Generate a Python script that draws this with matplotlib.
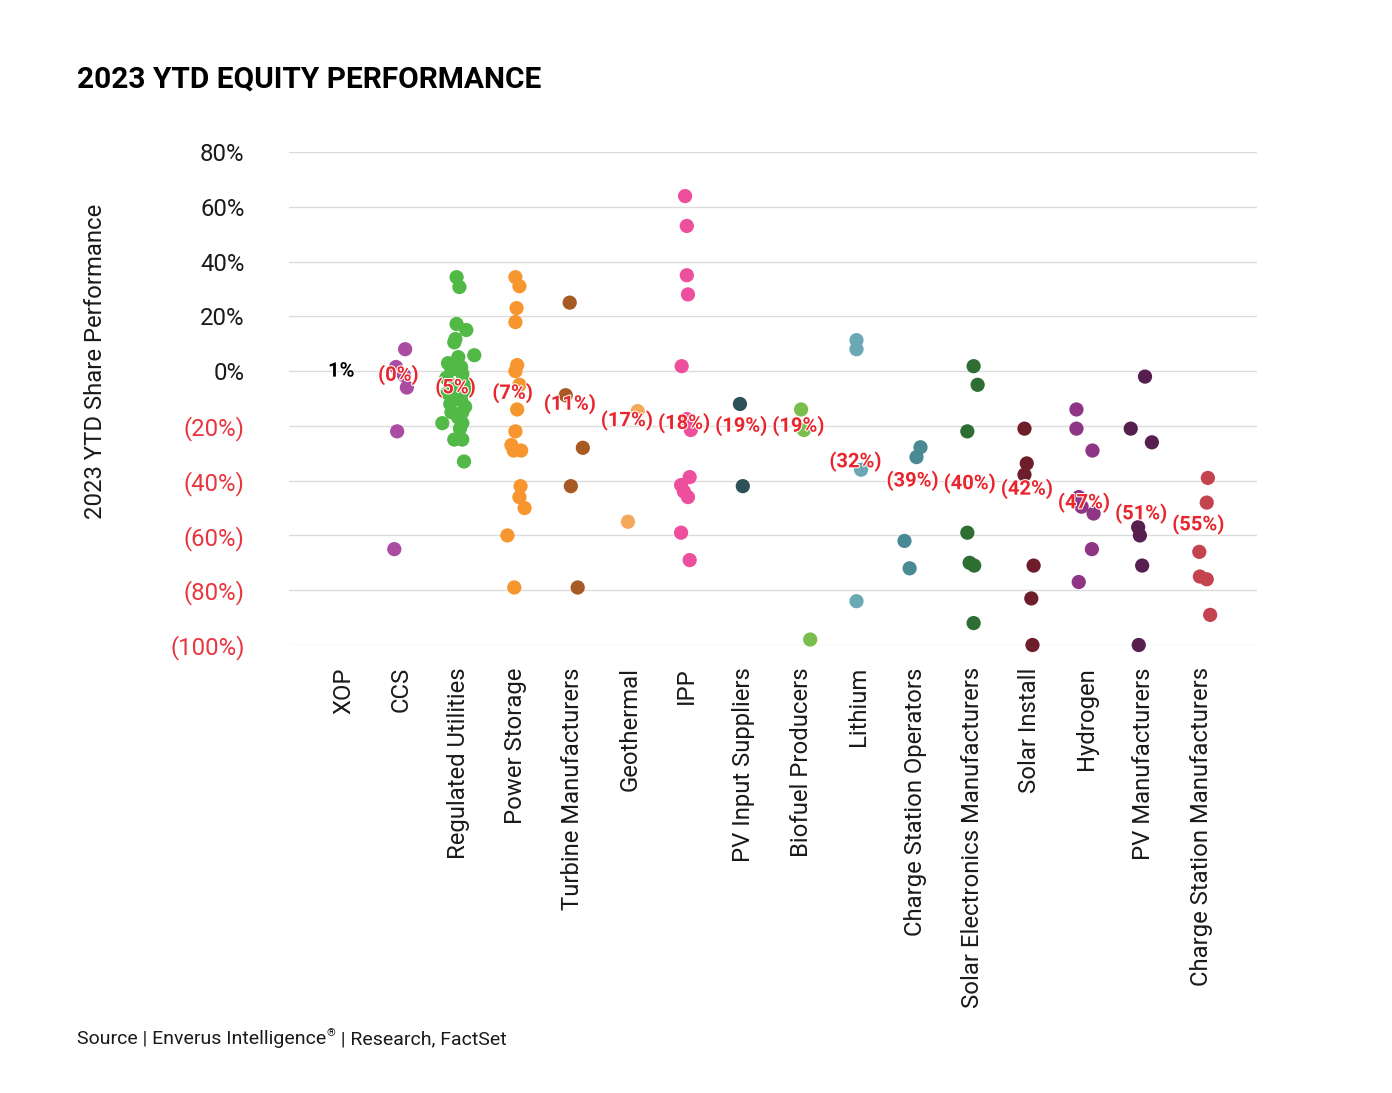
import matplotlib
matplotlib.use("Agg")
import matplotlib.pyplot as plt
import matplotlib.patheffects as pe
import numpy as np

plt.rcParams['font.family'] = ['Roboto', 'DejaVu Sans']

categories = ["XOP", "CCS", "Regulated Utilities", "Power Storage", "Turbine Manufacturers",
              "Geothermal", "IPP", "PV Input Suppliers", "Biofuel Producers", "Lithium",
              "Charge Station Operators", "Solar Electronics Manufacturers", "Solar Install",
              "Hydrogen", "PV Manufacturers", "Charge Station Manufacturers"]

colors = ["#000000", "#a94ca2", "#52b947", "#f7962f", "#a85a25", "#f6a85a", "#ee4f9c",
          "#2c5158", "#7abf4d", "#6aa9b3", "#4a8a94", "#2e6e33", "#6e1e2b", "#8e3586",
          "#561f50", "#c4434f"]

# Category summary labels (%)
summary = [1, -0.4, -5, -7, -11, -17, -18, -19, -19, -32, -39, -40, -42, -47, -51, -55]

# Individual equity YTD performance (%) and horizontal jitter (category units)
values = [
    [],
    [8, 1.5, -1.5, -6, -22, -65],
    [34.3, 30.7, 17.2, 15, 11.7, 10.5, 5.8, 5.1, 2.9, 1.5, 0.5, -1, -2.5, -4, -5, -7, -8, -9,
     -10.5, -12, -13, -15, -15, -17, -19, -19, -21, -25, -25, -33],
    [34.3, 31, 23, 17.9, 2.2, 0, -5, -14, -22, -27, -29, -29, -42, -46, -50, -60, -79],
    [25, -8.8, -28, -42, -79],
    [-14.6, -55],
    [63.9, 53, 35, 28, 1.8, -17.5, -19, -21.5, -38.7, -41.6, -44, -46, -59, -69],
    [-12, -42],
    [-14, -21.5, -98],
    [11.3, 8, -36, -84],
    [-27.8, -31.4, -62, -72],
    [1.8, -5, -22, -59, -70, -71, -92],
    [-21, -33.7, -37.8, -71, -83, -100],
    [-14, -21, -29, -46, -49.5, -52, -65, -77],
    [-2, -21, -26, -57, -60, -71, -100],
    [-39, -48, -66, -75, -76, -89],
]
jitter = [
    [],
    [0.07, -0.09, 0.05, 0.10, -0.07, -0.12],
    [-0.03, 0.02, -0.03, 0.14, -0.05, -0.07, 0.28, 0.0, -0.18, 0.05, -0.12, 0.07, -0.21, 0.10,
     -0.12, 0.12, -0.19, -0.02, 0.05, -0.14, 0.12, -0.12, 0.07, 0.0, -0.28, 0.07, 0.03, -0.07,
     0.07, 0.10],
    [0.0, 0.07, 0.02, 0.0, 0.03, 0.0, 0.07, 0.03, 0.0, -0.07, -0.03, 0.10, 0.09, 0.07, 0.16,
     -0.14, -0.02],
    [-0.05, -0.12, 0.18, -0.03, 0.09],
    [0.14, -0.03],
    [-0.03, 0.0, 0.0, 0.02, -0.09, 0.0, 0.05, 0.07, 0.05, -0.10, -0.05, 0.02, -0.10, 0.05],
    [-0.07, -0.02],
    [0.0, 0.05, 0.16],
    [-0.03, -0.03, 0.05, -0.03],
    [0.09, 0.02, -0.19, -0.10],
    [0.02, 0.09, -0.09, -0.09, -0.05, 0.03, 0.02],
    [-0.09, -0.05, -0.09, 0.07, 0.03, 0.05],
    [-0.18, -0.18, 0.10, -0.14, -0.09, 0.12, 0.09, -0.14],
    [0.02, -0.23, 0.14, -0.10, -0.07, -0.03, -0.09],
    [0.12, 0.10, -0.03, -0.02, 0.10, 0.16],
]

yticks = [80, 60, 40, 20, 0, -20, -40, -60, -80, -100]

W, H = 1392, 1093
fig = plt.figure(figsize=(W / 100, H / 100), dpi=100)
ax = fig.add_axes([289 / W, (H - 645) / H, 968 / W, 493 / H])

red = "#e8262e"
for i, (vals, jit) in enumerate(zip(values, jitter)):
    if vals:
        x = np.full(len(vals), float(i)) + np.array(jit)
        ax.scatter(x, vals, s=105, color=colors[i], edgecolors='none', zorder=3, clip_on=False)

for i, v in enumerate(summary):
    txt = f"{round(v)}%" if v > 0 else f"({abs(round(v))}%)"
    col = "#000000" if v > 0 else red
    ax.text(i - 0.05, v - 1, txt, ha='center', va='center', fontsize=14.5, fontweight='bold',
            color=col, zorder=5,
            path_effects=[pe.withStroke(linewidth=1.5, foreground='white')])

ax.set_xlim(-0.963, 15.98)
ax.set_ylim(-100, 80)
ax.set_yticks(yticks)
ax.set_yticklabels([f"{t}%" if t >= 0 else f"({abs(t)}%)" for t in yticks])
for lab, t in zip(ax.get_yticklabels(), yticks):
    lab.set_color("#1a1a1a" if t >= 0 else "#e8363f")
ax.set_xticks(range(len(categories)))
ax.set_xticklabels(categories, rotation=90, va='top', ha='center')
ax.tick_params(axis='y', length=0, pad=32, labelsize=17.2)
ax.tick_params(axis='x', length=0, pad=16, labelsize=17.2, labelcolor="#1a1a1a")

ax.grid(axis='y', color='#dcdcdc', linewidth=1)
ax.set_axisbelow(True)
for sp in ax.spines.values():
    sp.set_visible(False)

fig.text(77 / W, 1 - 80 / H, "2023 YTD EQUITY PERFORMANCE", fontsize=21.5, fontweight='bold',
         ha='left', va='center', color='#000000')
fig.text(95 / W, 1 - 361 / H, "2023 YTD Share Performance", fontsize=17.2,
         rotation=90, ha='center', va='center', color='#1a1a1a')

# Source line with a small raised registered mark
renderer = fig.canvas.get_renderer()
t1 = fig.text(77 / W, 1 - 1039 / H, "Source | Enverus Intelligence", fontsize=14,
              ha='left', va='center', color='#1a1a1a')
bb = t1.get_window_extent(renderer)
t2 = fig.text(bb.x1 / W + 0.0005, 1 - 1033 / H, "\u00ae", fontsize=8,
              ha='left', va='center', color='#1a1a1a')
bb2 = t2.get_window_extent(renderer)
fig.text(bb2.x1 / W + 0.0005, 1 - 1039 / H, " | Research, FactSet", fontsize=14,
         ha='left', va='center', color='#1a1a1a')

fig.savefig("out.png", dpi=100)
